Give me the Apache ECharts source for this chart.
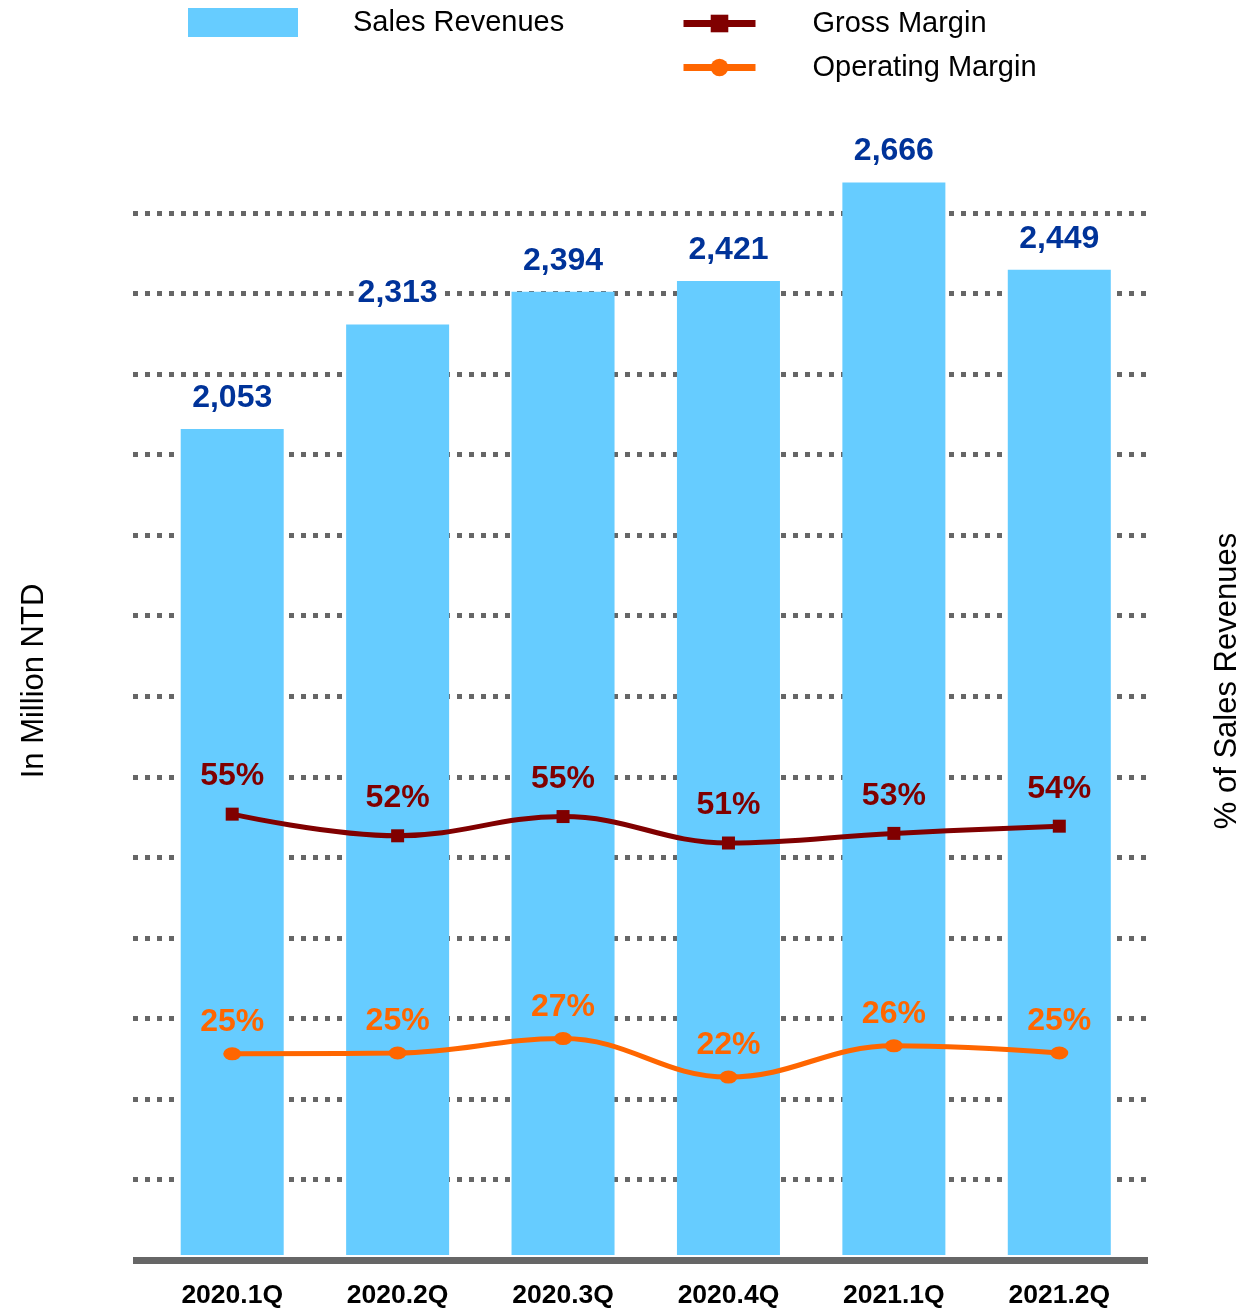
<!DOCTYPE html>
<html>
<head>
<meta charset="utf-8">
<script src="https://cdn.jsdelivr.net/npm/echarts@6/dist/echarts.min.js"></script>
<style>
html,body{margin:0;padding:0;background:#fff;}
#chart{width:1260px;height:1309px;}
</style>
</head>
<body>
<div id="chart"></div>
<script>
const categories = ['2020.1Q', '2020.2Q', '2020.3Q', '2020.4Q', '2021.1Q', '2021.2Q'];
const salesRevenues = [2053, 2313, 2394, 2421, 2666, 2449];
const grossMargin = [55.0, 52.3, 54.7, 51.4, 52.6, 53.5];
const operatingMargin = [25.1, 25.2, 27.0, 22.2, 26.1, 25.2];
const percentTicks = [0, 130, 10];

const FONT = "'Liberation Sans', Arial, sans-serif";
const chart = echarts.init(document.getElementById('chart'), null, {renderer: 'canvas'});

const option = {
  backgroundColor: '#ffffff',
  animation: false,
  textStyle: {fontFamily: FONT},
  legend: [
    {
      data: ['Sales Revenues'],
      left: 188, top: 8, padding: 0,
      icon: 'rect',
      itemWidth: 110, itemHeight: 29,
      textStyle: {fontSize: 29, color: '#000', fontFamily: FONT, padding: [0, 0, 0, 50]}
    },
    {
      data: [
        {name: 'Gross Margin', lineStyle: {width: 7}},
        {name: 'Operating Margin', lineStyle: {width: 7}}
      ],
      orient: 'vertical',
      left: 680, top: 9, padding: 0,
      itemWidth: 72, itemHeight: 22, itemGap: 15,
      lineStyle: {width: 7},
      textStyle: {fontSize: 29, color: '#000', fontFamily: FONT, padding: [0, 0, 0, 52]}
    }
  ],
  grid: [
    {left: 133, right: 112, top: 213, bottom: 49},
    {left: 149.5, right: 118, top: 213, bottom: 49}
  ],
  xAxis: [
    {
      type: 'category', gridIndex: 0, data: categories,
      z: 5,
      axisLine: {show: true, lineStyle: {color: '#666666', width: 7, cap: 'butt'}},
      axisTick: {show: false}, axisLabel: {show: false}, splitLine: {show: false}
    },
    {
      type: 'category', gridIndex: 1, data: categories,
      axisLine: {show: false}, axisTick: {show: false},
      axisLabel: {show: true, margin: 27, fontSize: 26.5, fontWeight: 'bold', color: '#000', fontFamily: FONT},
      splitLine: {show: false}
    }
  ],
  yAxis: [
    {
      type: 'value', gridIndex: 0,
      min: percentTicks[0], max: percentTicks[1], interval: percentTicks[2],
      axisLine: {show: false}, axisTick: {show: false}, axisLabel: {show: false},
      splitLine: {show: true, showMinLine: false, lineStyle: {color: '#666666', width: 5, type: [5, 7], cap: 'butt'}}
    },
    {
      type: 'value', gridIndex: 1, position: 'left',
      min: 0, max: 2590,
      axisLine: {show: false}, axisTick: {show: false}, axisLabel: {show: false}, splitLine: {show: false}
    },
    {
      type: 'value', gridIndex: 1, position: 'right',
      min: percentTicks[0], max: percentTicks[1], interval: percentTicks[2],
      axisLine: {show: false}, axisTick: {show: false}, axisLabel: {show: false}, splitLine: {show: false}
    }
  ],
  graphic: [
    {
      type: 'text', x: 34, y: 681, rotation: Math.PI / 2,
      style: {text: 'In Million NTD', font: "31px 'Liberation Sans', Arial, sans-serif", fill: '#000', align: 'center', verticalAlign: 'middle'}
    },
    {
      type: 'text', x: 1227, y: 681, rotation: Math.PI / 2,
      style: {text: '% of Sales Revenues', font: "31px 'Liberation Sans', Arial, sans-serif", fill: '#000', align: 'center', verticalAlign: 'middle'}
    }
  ],
  series: [
    {
      name: 'Sales Revenues', type: 'bar',
      xAxisIndex: 1, yAxisIndex: 1,
      data: salesRevenues,
      barWidth: 103, clip: false, z: 2,
      itemStyle: {color: '#66CCFF'},
      label: {
        show: true, position: 'top', distance: 15,
        fontSize: 32, fontWeight: 'bold', color: '#003399', fontFamily: FONT,
        backgroundColor: '#ffffff', padding: [0, 4],
        formatter: p => p.value.toLocaleString('en-US')
      }
    },
    {
      name: 'Gross Margin', type: 'line',
      xAxisIndex: 1, yAxisIndex: 2,
      data: grossMargin, smooth: 0.4, z: 4,
      symbol: 'rect', symbolSize: 13, showAllSymbol: true,
      lineStyle: {color: '#800000', width: 5},
      itemStyle: {color: '#800000'},
      label: {
        show: true, position: 'top', distance: 15,
        fontSize: 32, fontWeight: 'bold', color: '#800000', fontFamily: FONT,
        formatter: p => Math.round(p.value) + '%'
      }
    },
    {
      name: 'Operating Margin', type: 'line',
      xAxisIndex: 1, yAxisIndex: 2,
      data: operatingMargin, smooth: 0.4, z: 4,
      symbol: 'circle', symbolSize: [18, 13], showAllSymbol: true,
      lineStyle: {color: '#FF6600', width: 5},
      itemStyle: {color: '#FF6600'},
      label: {
        show: true, position: 'top', distance: 9,
        fontSize: 32, fontWeight: 'bold', color: '#FF6600', fontFamily: FONT,
        formatter: p => Math.round(p.value) + '%'
      }
    }
  ]
};
chart.setOption(option);
</script>
</body>
</html>
